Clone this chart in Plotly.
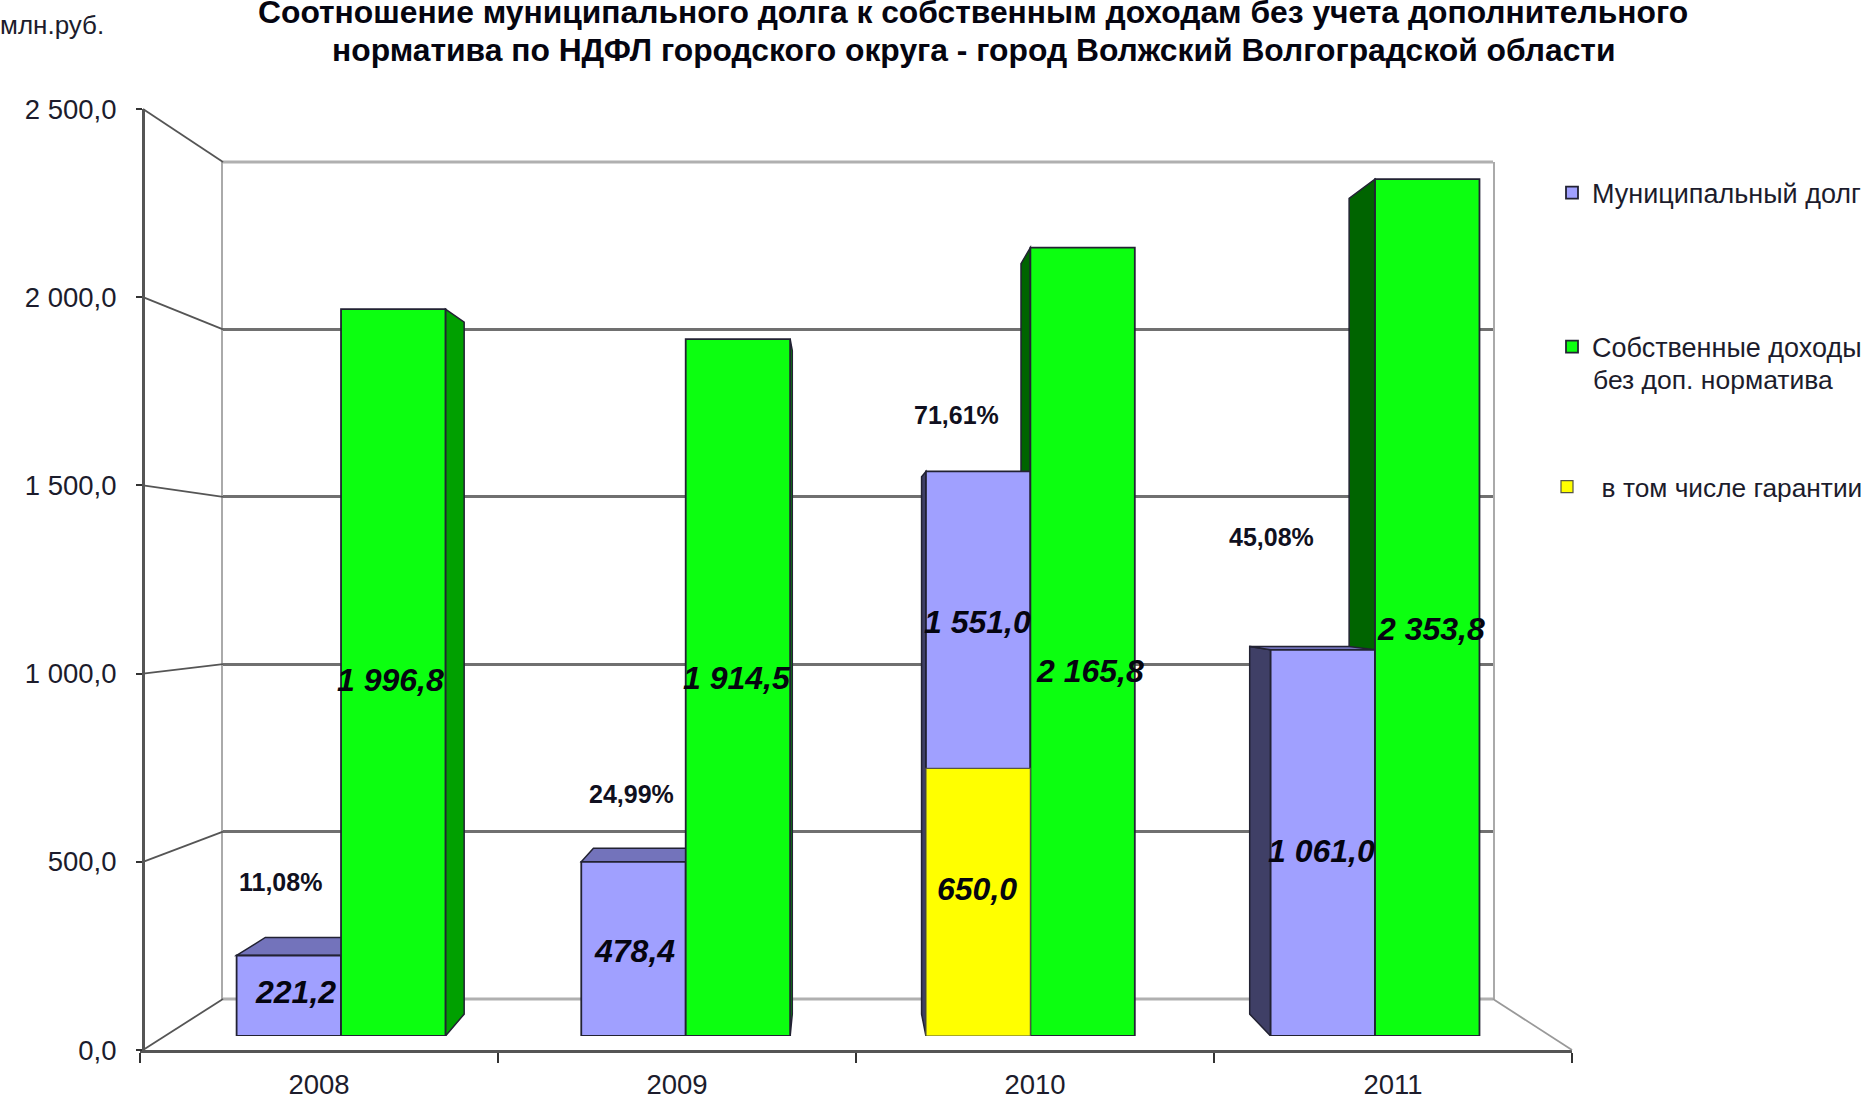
import plotly.graph_objects as go

# ---------- data ----------
years = [2008, 2009, 2010, 2011]
year_labels = ["2008", "2009", "2010", "2011"]
debt = [221.2, 478.4, 1551.0, 1061.0]
income = [1996.8, 1914.5, 2165.8, 2353.8]
# the reference draws the yellow 2010 bar taller than its printed 650,0
guarantees_drawn = [None, None, 735.0, None]

debt_labels = ["221,2", "478,4", "1 551,0", "1 061,0"]
income_labels = ["1 996,8", "1 914,5", "2 165,8", "2 353,8"]
guarantee_label = "650,0"
ratio_labels = ["11,08%", "24,99%", "71,61%", "45,08%"]

y_ticks = [0, 500, 1000, 1500, 2000, 2500]
y_tick_labels = ["0,0", "500,0", "1 000,0", "1 500,0", "2 000,0", "2 500,0"]

series_debt = "Муниципальный долг"
series_income = "Собственные доходы"
series_income_line2 = "без доп. норматива"
series_guar = "\u00a0\u00a0в том числе гарантии"
title_lines = ["Соотношение муниципального долга к собственным доходам без учета дополнительного",
               "норматива по НДФЛ городского округа - город Волжский Волгоградской области"]

# label placement (value-axis height, pixel nudge from the bar centre)
debt_label_y = [121, 234, 1137, 508]
debt_label_dx = [7, 1, -1, -1]
income_label_y = [978, 984, 1003, 1118]
income_label_dx = [-3, -1, 7, 4]
guar_label_y = 404
ratio_label_y = [423, 665, 1706, 1371]
ratio_label_dx = [-8, -2, -22, -51]

# ---------- page geometry ----------
W, H = 1864, 1103
FONT = "Liberation Sans"
TXT = "#1c1c2c"
def px(v): return v / W
def py(v): return 1 - v / H

FRONT = dict(x0=140, x1=1572, y0=1050, y1=109)     # front axes
BACK = dict(x0=223, x1=1493, y0=999, y1=162)       # back wall
BAR_BASE, BAR_SCALE = 1036, 0.364                  # px, px per unit of the bar plane
BAR_X0, PITCH = 168.7, 344.67
BAR_GAP = 0.394
VP = (835, 580)   # vanishing point of the depth edges
DEPTH = 0.952     # back face of a bar relative to its front face
YMAX = 2500

bar_w = PITCH * (1 - BAR_GAP) / 2
bar_top_px = BAR_BASE - BAR_SCALE * YMAX

def x3(p): return years[0] - 0.5 + (p - BAR_X0) / PITCH
def y3(p): return (BAR_BASE - p) / BAR_SCALE
def to_back(x, y): return VP[0] + DEPTH * (x - VP[0]), VP[1] + DEPTH * (y - VP[1])

def poly(points, fill):
    path = "M" + " L".join(f"{x3(x):.5f},{y3(y):.3f}" for x, y in points) + " Z"
    return dict(type="path", xref="x3", yref="y3", path=path, layer="below",
                fillcolor=fill, line=dict(color="#222233", width=1.5))

def box_faces(left, right, value, top_col, left_col, right_col):
    top = BAR_BASE - BAR_SCALE * value
    out = []
    if right < VP[0]:
        out.append(poly([(right, top), to_back(right, top), to_back(right, BAR_BASE), (right, BAR_BASE)], right_col))
    if left > VP[0]:
        out.append(poly([(left, top), to_back(left, top), to_back(left, BAR_BASE), (left, BAR_BASE)], left_col))
    if top > VP[1]:
        out.append(poly([(left, top), to_back(left, top), to_back(right, top), (right, top)], top_col))
    return out

shapes = []
for i in range(4):
    c = BAR_X0 + PITCH * (i + 0.5)
    shapes += box_faces(c, c + bar_w, income[i], "#00C000", "#006400", "#00A000")
for i in range(4):
    c = BAR_X0 + PITCH * (i + 0.5)
    shapes += box_faces(c - bar_w, c, debt[i], "#7373BB", "#3F3F66", "#3F3F66")

# depth edges joining the front axis to the back wall
def yf(v): return FRONT["y0"] + (FRONT["y1"] - FRONT["y0"]) * v / YMAX
def yb(v): return BACK["y0"] + (BACK["y1"] - BACK["y0"]) * v / YMAX
for v in y_ticks:
    shapes.append(dict(type="line", xref="paper", yref="paper", x0=px(143), x1=px(BACK["x0"]),
                       y0=py(yf(v)), y1=py(yb(v)), line=dict(color="#555555", width=1.8)))
shapes.append(dict(type="line", xref="paper", yref="paper", x0=px(FRONT["x1"]), x1=px(BACK["x1"]),
                   y0=py(FRONT["y0"]), y1=py(BACK["y0"]), line=dict(color="#999999", width=1.8)))
# top and bottom edges of the back wall are paler than the inner gridlines
for v in (0, YMAX):
    shapes.append(dict(type="line", xref="paper", yref="paper", layer="below", x0=px(BACK["x0"]), x1=px(BACK["x1"]),
                       y0=py(yb(v)), y1=py(yb(v)), line=dict(color="#b0b0b0", width=3)))

fig = go.Figure()
fig.add_trace(go.Scatter(x=year_labels, y=[None] * 4, xaxis="x", yaxis="y", showlegend=False, hoverinfo="skip"))
fig.add_trace(go.Scatter(x=[0, 1], y=[None, None], xaxis="x2", yaxis="y2", showlegend=False, hoverinfo="skip"))
bar_line = dict(color="#222233", width=1.8)
fig.add_trace(go.Bar(name=series_debt, x=years, y=debt, offsetgroup="a", xaxis="x3", yaxis="y3",
                     marker=dict(color="#A0A0FF", line=bar_line), legend="legend"))
fig.add_trace(go.Bar(name=series_income, x=years, y=income, offsetgroup="b", xaxis="x3", yaxis="y3",
                     marker=dict(color="#0CFF10", line=bar_line), legend="legend2"))
fig.add_trace(go.Bar(name=series_guar, x=years, y=guarantees_drawn, offsetgroup="a", xaxis="x3", yaxis="y3",
                     marker=dict(color="#FFFF00", line=dict(color="#555544", width=1.2)), legend="legend3"))

ann = []
value_font = dict(family=FONT, size=32, color="#050510", weight="bold", style="italic")
for i, yr in enumerate(years):
    ann.append(dict(x=yr, y=debt_label_y[i], xref="x3", yref="y3", text=debt_labels[i], showarrow=False,
                    xshift=-bar_w / 2 + debt_label_dx[i], font=value_font))
    ann.append(dict(x=yr, y=income_label_y[i], xref="x3", yref="y3", text=income_labels[i], showarrow=False,
                    xshift=bar_w / 2 + income_label_dx[i], font=value_font))
    ann.append(dict(x=yr, y=ratio_label_y[i], xref="x3", yref="y3", text=ratio_labels[i], showarrow=False,
                    xshift=-bar_w / 2 + ratio_label_dx[i],
                    font=dict(family=FONT, size=25, color="#101020", weight="bold")))
ann.append(dict(x=years[2], y=guar_label_y, xref="x3", yref="y3", text=guarantee_label, showarrow=False,
                xshift=-bar_w / 2 - 1, font=value_font))
ann.append(dict(x=-2 / W, y=py(25), xref="paper", yref="paper", text="млн.руб.", showarrow=False, xanchor="left",
                yanchor="middle", font=dict(family=FONT, size=26, color=TXT)))
ann.append(dict(x=px(1593), y=py(380), xref="paper", yref="paper", text=series_income_line2, showarrow=False,
                xanchor="left", yanchor="middle", xshift=-2, font=dict(family=FONT, size=26.5, color=TXT)))
for line, yc in zip(title_lines, (12, 50)):
    ann.append(dict(x=973 / W, y=py(yc), xref="paper", yref="paper", text=line, showarrow=False,
                    xanchor="center", yanchor="middle",
                    font=dict(family=FONT, size=31.8, color="#050510", weight="bold")))

legend_base = dict(xanchor="left", yanchor="middle", bgcolor="rgba(0,0,0,0)", borderwidth=0,
                   itemwidth=30, indentation=-10)

fig.update_layout(
    width=W, height=H, autosize=False, margin=dict(l=0, r=0, t=0, b=0, autoexpand=False),
    paper_bgcolor="white", plot_bgcolor="rgba(0,0,0,0)",
    barmode="group", bargap=BAR_GAP, bargroupgap=0,
    shapes=shapes, annotations=ann,
    xaxis=dict(type="category", domain=[px(FRONT["x0"]), px(FRONT["x1"])], anchor="y", tickson="boundaries",
               categoryorder="array", categoryarray=year_labels, range=[-0.5, 3.5], automargin=False,
               ticks="outside", ticklen=10, tickwidth=1.8, tickcolor="#333333", ticklabelstandoff=8,
               showline=True, linecolor="#555555", linewidth=3, showgrid=False, zeroline=False,
               tickfont=dict(family=FONT, size=27.5, color=TXT)),
    yaxis=dict(domain=[py(FRONT["y0"]), py(FRONT["y1"])], range=[0, YMAX], anchor="free", position=px(143),
               automargin=False, tickvals=y_ticks, ticktext=y_tick_labels, ticks="outside", ticklen=6, tickwidth=1.8,
               tickcolor="#333333", ticklabelstandoff=14, showline=True, linecolor="#555555", linewidth=3,
               showgrid=False, zeroline=False, tickfont=dict(family=FONT, size=27.5, color=TXT)),
    xaxis2=dict(domain=[px(BACK["x0"]), px(BACK["x1"])], anchor="y2", range=[0, 1], visible=False, automargin=False),
    yaxis2=dict(domain=[py(BACK["y0"]), py(BACK["y1"])], anchor="x2", range=[0, YMAX], automargin=False,
                tickvals=y_ticks[1:-1], showticklabels=False, ticks="", showgrid=True, gridcolor="#707070",
                gridwidth=3, zeroline=False, showline=True, mirror=True, linecolor="#aaaaaa", linewidth=1.8),
    xaxis3=dict(domain=[px(BAR_X0), px(BAR_X0 + 4 * PITCH)], anchor="y3", range=[years[0] - 0.5, years[-1] + 0.5],
                visible=False, automargin=False),
    yaxis3=dict(domain=[py(BAR_BASE), py(bar_top_px)], anchor="x3", range=[0, YMAX], visible=False, automargin=False),
    legend=dict(x=px(1562), y=py(193), font=dict(family=FONT, size=27, color=TXT), **legend_base),
    legend2=dict(x=px(1562), y=py(347), font=dict(family=FONT, size=27, color=TXT), **legend_base),
    legend3=dict(x=px(1557), y=py(487), font=dict(family=FONT, size=26.3, color=TXT), **legend_base),
    showlegend=True,
)

fig.write_html("out.html", config=dict(displayModeBar=False),
               post_script="document.body.style.margin='0';document.body.style.overflow='hidden';")
